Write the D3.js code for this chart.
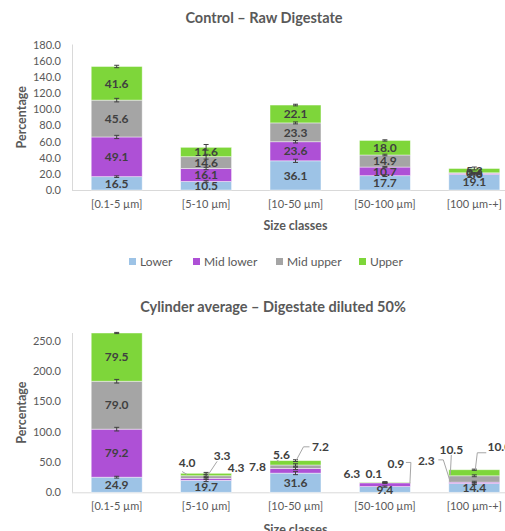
<!DOCTYPE html>
<html>
<head>
<meta charset="utf-8">
<script src="https://cdn.jsdelivr.net/npm/d3@7"></script>
<style>
  html, body { margin: 0; padding: 0; background: #fff; }
  svg { display: block; font-family: Lato, "Open Sans", sans-serif; }
</style>
</head>
<body>
<svg id="chart" width="505" height="531"></svg>
<script>
// Size classes shared by both panels
const categories = ["[0.1-5 µm]", "[5-10 µm]", "[10-50 µm]", "[50-100 µm]", "[100 µm-+]"];
const seriesNames = ["Lower", "Mid lower", "Mid upper", "Upper"];
const seriesColors = ["#9dc3e6", "#ae50d6", "#a5a5a5", "#7ed63a"];

// Control – raw digestate (percentage per layer)
const rawLower    = [16.5, 10.5, 36.1, 17.7, 19.1];
const rawMidLower = [49.1, 16.1, 23.6, 10.7, 1.6];
const rawMidUpper = [45.6, 14.6, 23.3, 14.9, 0.6];
const rawUpper    = [41.6, 11.6, 22.1, 18.0, 5.3];
const rawErrLower    = [1.0, 1.0, 2.0, 1.0, 0.6];
const rawErrMidLower = [2.0, 1.5, 1.5, 0.8, 0.6];
const rawErrMidUpper = [2.2, 3.0, 1.2, 1.0, 0.6];
const rawErrUpper    = [1.5, 3.5, 1.0, 0.8, 1.8];
const rawTicks = [0, 20, 40, 60, 80, 100, 120, 140, 160, 180];

// Cylinder average – digestate diluted 50%
const dilLower    = [24.9, 19.7, 31.6, 9.4, 14.4];
const dilMidLower = [79.2, 3.3, 7.8, 6.3, 2.3];
const dilMidUpper = [79.0, 4.3, 5.6, 0.1, 10.5];
const dilUpper    = [79.5, 4.0, 7.2, 0.9, 10.0];
const dilErrLower    = [1.5, 2.0, 2.5, 1.0, 1.5];
const dilErrMidLower = [3.0, 1.5, 2.0, 0.8, 1.5];
const dilErrMidUpper = [3.0, 1.5, 2.0, 0.8, 1.5];
const dilErrUpper    = [1.0, 1.5, 1.5, 0.8, 1.0];
const dilTicks = [0, 50, 100, 150, 200, 250];
const dilMax = 262.6;

// Where the small labels of the diluted panel sit: label offset from the
// segment centre, optional leader elbows (relative to the label) and the
// point on the bar the leader ends at (relative to the segment centre).
const calloutLayout = {
  "1-1": { dx: 16,  dy: -24, lead: [[-5, 6]], ax: 1, ay: -3 },
  "1-2": { dx: 30,  dy: -9 },
  "1-3": { dx: -19, dy: -12, lead: [[-5, 9]], ax: -19, ay: 0 },
  "2-1": { dx: -38, dy: -4 },
  "2-2": { dx: -14, dy: -12, lead: [[-5, 5]], ax: -16, ay: -5 },
  "2-3": { dx: 25,  dy: -16, lead: [[-11, 0], [-17, 0]], ax: 1, ay: -3 },
  "3-1": { dx: -33, dy: -11 },
  "3-2": { dx: -11, dy: -9 },
  "3-3": { dx: 11,  dy: -19, lead: [[10, -1], [15, -1]], ax: 25, ay: 1 },
  "4-1": { dx: -48, dy: -22, lead: [[12, -1], [17, -1]], ax: -24, ay: -1 },
  "4-2": { dx: -23, dy: -29, lead: [[0, 5]], ax: -24, ay: -4 },
  "4-3": { dx: 25,  dy: -26, lead: [[-13, 6], [-22, 6]], ax: 1, ay: -3 }
};

const svg = d3.select("#chart");
const grey = "#595959";
const labelInk = "#404040";

function drawPanel(cfg) {
  const g = svg.append("g");
  const x = d3.scaleBand().domain(categories).range([72, 519])
    .paddingInner(0.43).paddingOuter(0.215);
  const y = d3.scaleLinear().domain(cfg.domain).range([cfg.bottom, cfg.top]);

  // stacked layout
  const rows = categories.map((c, i) => {
    const r = { cat: c };
    seriesNames.forEach((s, k) => { r[s] = cfg.values[k][i]; });
    return r;
  });
  const stacked = d3.stack().keys(seriesNames)(rows);

  // title
  g.append("text").attr("x", cfg.titleX).attr("y", cfg.titleY)
    .attr("text-anchor", "middle").attr("font-size", 14.5).attr("font-weight", 700)
    .attr("fill", grey).text(cfg.title);

  // axis lines
  g.append("line").attr("x1", 72.5).attr("x2", 72.5)
    .attr("y1", cfg.top).attr("y2", cfg.bottom).attr("stroke", "#d9d9d9");
  g.append("line").attr("x1", 72).attr("x2", 505)
    .attr("y1", cfg.bottom + 0.5).attr("y2", cfg.bottom + 0.5).attr("stroke", "#d9d9d9");

  // y tick labels
  const yAxis = d3.axisLeft(y).tickValues(cfg.ticks).tickFormat(d3.format(".1f"))
    .tickSize(0).tickPadding(0);
  const ya = g.append("g").attr("transform", "translate(61,0)").call(yAxis);
  ya.select(".domain").remove();
  ya.selectAll("text").attr("font-size", 11).attr("fill", grey)
    .attr("font-family", "Lato, sans-serif");

  // x category labels
  const xAxis = d3.axisBottom(x).tickSize(0).tickPadding(0);
  const xa = g.append("g").attr("transform", `translate(0,${cfg.bottom + 10})`).call(xAxis);
  xa.select(".domain").remove();
  xa.selectAll("text").attr("font-size", 11).attr("fill", grey)
    .attr("font-family", "Lato, sans-serif");

  // axis titles
  g.append("text")
    .attr("transform", `translate(26,${(cfg.top + cfg.bottom) / 2}) rotate(-90)`)
    .attr("text-anchor", "middle").attr("font-size", 12.5).attr("font-weight", 700)
    .attr("fill", grey).text("Percentage");
  g.append("text").attr("x", 295.5).attr("y", cfg.xTitleY)
    .attr("text-anchor", "middle").attr("font-size", 12.5).attr("font-weight", 700)
    .attr("fill", grey).text("Size classes");

  // bars
  const layers = g.append("g").selectAll("g").data(stacked).join("g")
    .attr("fill", (d, k) => seriesColors[k]);
  layers.selectAll("rect").data(d => d).join("rect")
    .attr("x", d => x(d.data.cat))
    .attr("width", x.bandwidth())
    .attr("y", d => y(d[1]))
    .attr("height", d => y(d[0]) - y(d[1]))
    .attr("stroke", "#ffffff").attr("stroke-opacity", 0.55).attr("stroke-width", 0.8);

  // error bars at the top of every segment
  const eb = g.append("g").attr("stroke", "#404040").attr("stroke-width", 1);
  stacked.forEach((layer, k) => {
    layer.forEach((d, i) => {
      const cx = x(d.data.cat) + x.bandwidth() / 2;
      const e = cfg.errors[k][i];
      const y1 = y(d[1] - e), y2 = y(d[1] + e);
      eb.append("line").attr("x1", cx).attr("x2", cx).attr("y1", y1).attr("y2", y2);
      eb.append("line").attr("x1", cx - 2.5).attr("x2", cx + 2.5).attr("y1", y1).attr("y2", y1);
      eb.append("line").attr("x1", cx - 2.5).attr("x2", cx + 2.5).attr("y1", y2).attr("y2", y2);
    });
  });

  // data labels
  const lab = g.append("g").attr("font-size", 12).attr("font-weight", 700)
    .attr("fill", labelInk).attr("text-anchor", "middle");
  const leaders = g.append("g").attr("fill", "none").attr("stroke", "#a6a6a6").attr("stroke-width", 1);
  stacked.forEach((layer, k) => {
    layer.forEach((d, i) => {
      const cx = x(d.data.cat) + x.bandwidth() / 2;
      const cy = y((d[0] + d[1]) / 2);
      const txt = d3.format(".1f")(d[1] - d[0]);
      const c = cfg.callouts ? cfg.callouts[`${i}-${k}`] : null;
      if (!c) {
        lab.append("text").attr("x", cx).attr("y", cy).attr("dy", "0.35em").text(txt);
        return;
      }
      const lx = cx + c.dx, ly = cy + c.dy;
      lab.append("text").attr("x", lx).attr("y", ly).attr("dy", "0.35em").text(txt);
      if (c.lead) {
        const pts = c.lead.map(p => [lx + p[0], ly + p[1]]);
        pts.push([cx + c.ax, cy + c.ay]);
        leaders.append("path").attr("d", d3.line()(pts));
      }
    });
  });
}

drawPanel({
  title: "Control – Raw Digestate", titleX: 264, titleY: 23,
  domain: [0, 180], top: 44.5, bottom: 190, ticks: rawTicks,
  values: [rawLower, rawMidLower, rawMidUpper, rawUpper],
  errors: [rawErrLower, rawErrMidLower, rawErrMidUpper, rawErrUpper],
  xTitleY: 230
});

drawPanel({
  title: "Cylinder average – Digestate diluted 50%", titleX: 273, titleY: 312,
  domain: [0, dilMax], top: 333, bottom: 492.3, ticks: dilTicks,
  values: [dilLower, dilMidLower, dilMidUpper, dilUpper],
  errors: [dilErrLower, dilErrMidLower, dilErrMidUpper, dilErrUpper],
  callouts: calloutLayout,
  xTitleY: 534
});

// legend under the top panel
const legendX = [129, 193, 276, 359];
const legend = svg.append("g").selectAll("g").data(seriesNames).join("g")
  .attr("transform", (d, k) => `translate(${legendX[k]},258)`);
legend.append("rect").attr("width", 7).attr("height", 7)
  .attr("fill", (d, k) => seriesColors[k]);
legend.append("text").attr("x", 11).attr("y", 7.5)
  .attr("font-size", 12).attr("fill", grey).text(d => d);
</script>
</body>
</html>
